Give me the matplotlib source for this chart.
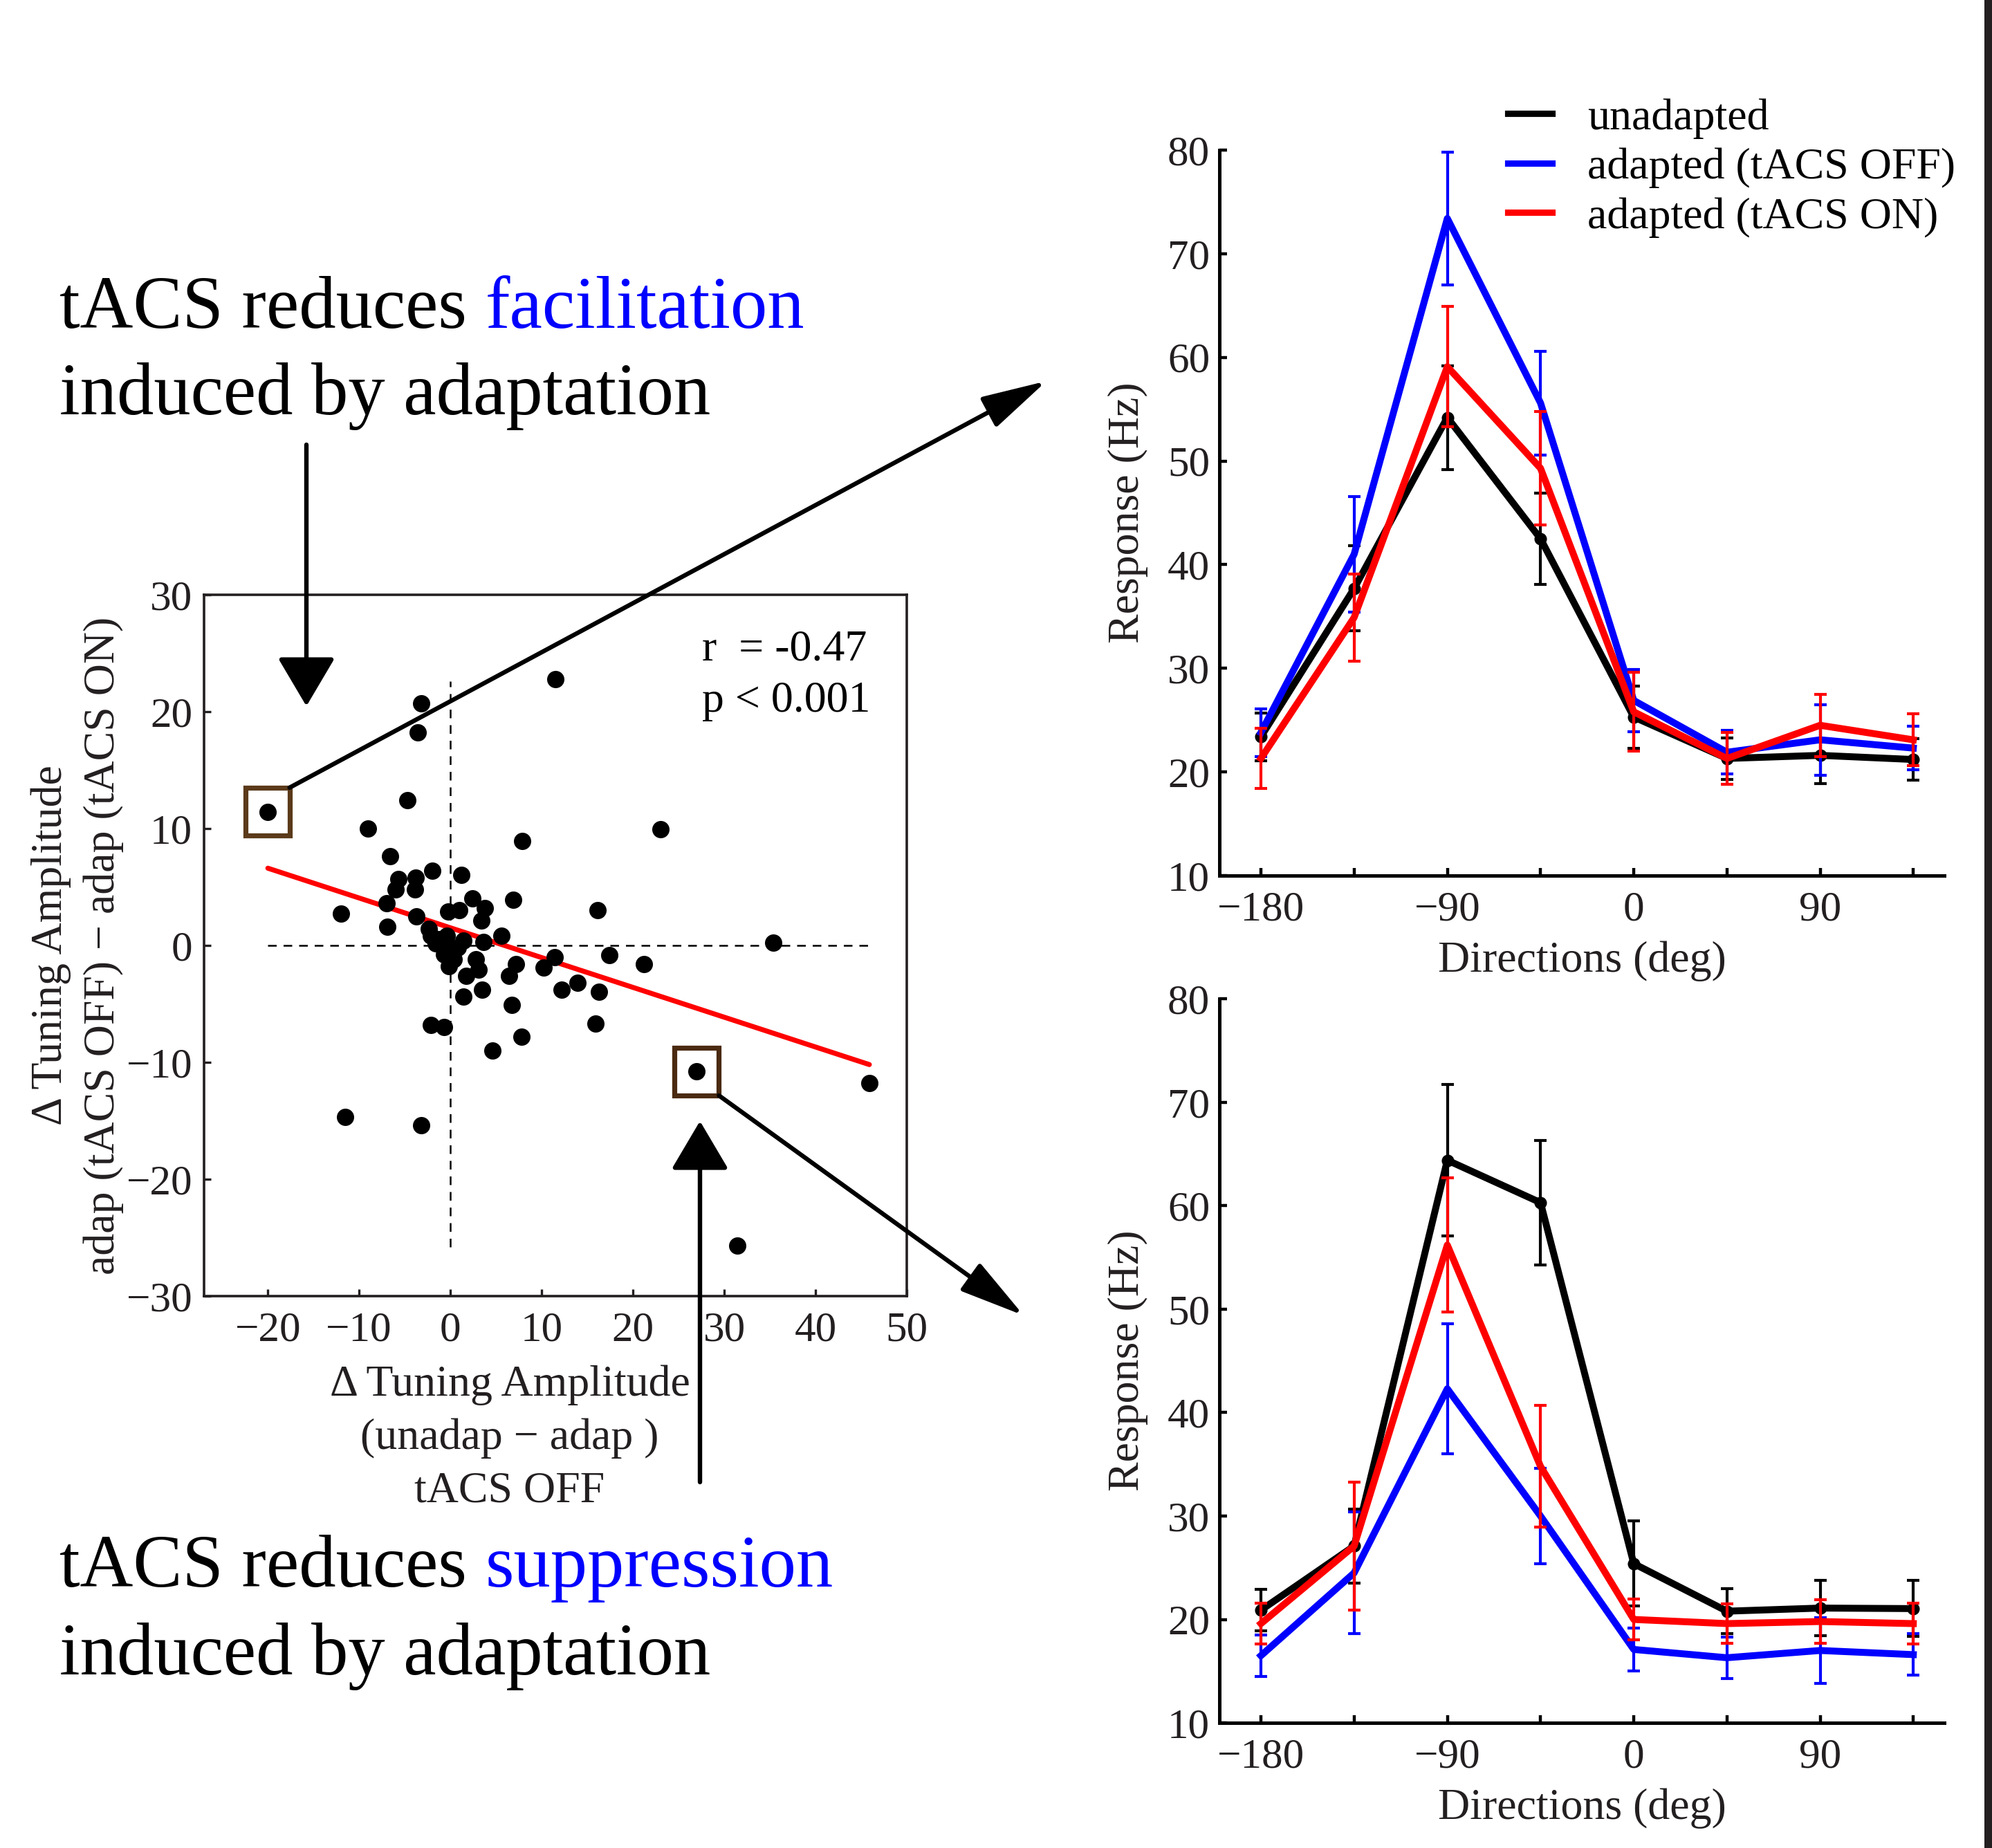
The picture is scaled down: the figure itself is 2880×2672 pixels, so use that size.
import matplotlib
matplotlib.use("Agg")
import matplotlib.pyplot as plt
from matplotlib.patches import Rectangle, FancyArrowPatch, ConnectionPatch
from matplotlib.lines import Line2D

plt.rcParams['font.family'] = ['Liberation Serif', 'DejaVu Serif']
plt.rcParams['axes.unicode_minus'] = True

# --- scatter: change of tuning amplitude ---
amp_off = [-20.05, -3.2, -3.55, 11.5, -4.7, -9.0, 23.0, 7.9, -6.6, -2.0,
           1.2, -5.7, -3.8, -6.0, -3.9, 2.4, 6.9, 3.8, -7.0, -12.0,
           16.1, -0.25, 1.0, -3.7, 3.4, -6.9, -2.4, -2.1, -0.4, 5.6,
           35.4, -1.6, -0.7, 1.4, 3.6, 0.1, -0.7, 11.4, 17.4, 21.2,
           2.8, 7.2, 0.4, -0.15, 10.2, 3.1, 1.7, 6.4, 13.9, 12.2,
           16.3, 3.5, 1.4, 6.7, 15.9, -2.1, -0.66, 7.8, 4.6, 27.0,
           45.9, -11.5, -3.2, 31.4, -1.2, 0.8]
amp_diff = [11.44, 20.7, 18.2, 22.8, 12.4, 10.0, 9.96, 8.9, 7.6, 6.4,
            6.0, 5.7, 5.8, 4.8, 4.8, 4.0, 3.9, 3.2, 3.6, 2.7,
            3.0, 2.9, 3.0, 2.5, 2.1, 1.6, 1.4, 0.8, 0.8, 0.8,
            0.24, 0.16, 0.0, 0.4, 0.3, -0.4, -0.8, -1.0, -0.84, -1.6,
            -1.2, -1.6, -1.2, -1.8, -1.9, -2.1, -2.6, -2.6, -3.2, -3.8,
            -4.0, -3.8, -4.4, -5.1, -6.7, -6.8, -7.0, -7.8, -9.0, -10.8,
            -11.8, -14.7, -15.4, -25.7, 0.5, -0.2]
highlight = [0, 59]
fit_x = [-20.0, 45.9]
fit_y = [6.6, -10.2]
stats_text = "r  = -0.47\np < 0.001"

# --- tuning curves ---
directions = [-180, -135, -90, -45, 0, 45, 90, 135]
dir_labels = ['\u2212180', '', '\u221290', '', '0', '', '90', '']

top_unadapted = [23.4, 37.7, 54.2, 42.5, 25.3, 21.3, 21.6, 21.2]
top_unadapted_err = [2.3, 4.1, 5.0, 4.4, 3.0, 2.0, 2.7, 2.0]
top_off = [23.8, 41.0, 73.4, 55.6, 26.9, 21.9, 23.1, 22.3]
top_off_err = [2.3, 5.6, 6.4, 5.0, 3.0, 2.1, 3.4, 2.1]
top_on = [21.3, 34.9, 59.1, 49.3, 25.8, 21.3, 24.5, 23.1]
top_on_err = [2.9, 4.2, 5.8, 5.5, 3.8, 2.5, 3.0, 2.5]

bot_unadapted = [20.9, 27.1, 64.4, 60.3, 25.4, 20.8, 21.1, 21.05]
bot_unadapted_err = [2.0, 3.6, 7.3, 6.0, 4.1, 2.2, 2.7, 2.7]
bot_off = [16.5, 24.5, 42.3, 30.0, 17.1, 16.3, 17.0, 16.6]
bot_off_err = [2.0, 5.9, 6.3, 4.6, 2.1, 2.0, 3.2, 2.0]
bot_on = [19.6, 27.1, 56.2, 34.8, 20.0, 19.6, 19.8, 19.6]
bot_on_err = [2.0, 6.2, 6.5, 5.9, 2.0, 1.9, 2.1, 2.0]

series_names = ['unadapted', 'adapted (tACS OFF)', 'adapted (tACS ON)']
series_colors = ['black', '#0000ff', '#ff0000']

W, H = 2880, 2672
fig = plt.figure(figsize=(W / 200, H / 200), dpi=200)


def fx(px):
    return px / W


def fy(py):
    return 1 - py / H


# scatter panel
ax = fig.add_axes([0.1024, 0.2987, 0.3528, 0.3795])
ax.plot([0, 0], [-25.8, 22.6], color='k', lw=0.9, ls=(0, (5, 4)), zorder=1)
ax.plot([-20.0, 45.9], [0, 0], color='k', lw=0.9, ls=(0, (5, 4)), zorder=1)
ax.plot(fit_x, fit_y, color='red', lw=2.6, zorder=2, solid_capstyle='round')
ax.plot(amp_off, amp_diff, 'o', color='k', ms=8, zorder=3)
box_w, box_h = 4.85, 4.1
box_colors = ['#5b3a1a', '#4a2a10']
for i, c in zip(highlight, box_colors):
    ax.add_patch(Rectangle((amp_off[i] - box_w / 2, amp_diff[i] - box_h / 2),
                           box_w, box_h, fill=False, ec=c, lw=2.6, zorder=4))
ax.set_xlim(-27, 50)
ax.set_ylim(-30, 30)
ax.set_xticks(range(-20, 51, 10))
ax.set_yticks(range(-30, 31, 10))
ax.tick_params(direction='in', length=3.5, width=1.2, labelsize=22, pad=6,
               colors='#231f20')
ax.tick_params(axis='x', pad=8)
for s in ax.spines.values():
    s.set_linewidth(1.3)
    s.set_color('#231f20')
ax.text(0.709, 0.95, stats_text, transform=ax.transAxes, fontsize=23,
        ha='left', va='top', linespacing=1.38)
fig.text(fx(737), fy(1973), "\u0394 Tuning Amplitude\n(unadap \u2212 adap )\ntACS OFF",
         fontsize=23, ha='center', va='top', linespacing=1.42, color='#231f20')
fig.text(fx(112), fy(1367), "\u0394 Tuning Amplitude\nadap (tACS OFF) \u2212 adap (tACS ON)",
         fontsize=23, ha='center', va='center', rotation=90, linespacing=1.4,
         color='#231f20')

# tuning curve panels
panels = [
    ([0.6122, 0.5262, 0.3639, 0.3926],
     [(top_unadapted, top_unadapted_err), (top_off, top_off_err), (top_on, top_on_err)]),
    ([0.6122, 0.0677, 0.3639, 0.3918],
     [(bot_unadapted, bot_unadapted_err), (bot_off, bot_off_err), (bot_on, bot_on_err)]),
]
curve_axes = []
for rect, data in panels:
    a = fig.add_axes(rect)
    for k, ((vals, errs), col) in enumerate(zip(data, series_colors)):
        a.errorbar(directions, vals, yerr=errs, color=col, lw=3.6,
                   elinewidth=1.5, capsize=3.3, capthick=1.5,
                   marker='o' if k == 0 else None, ms=5.5, zorder=2 + k)
    a.set_xlim(-200, 150)
    a.set_ylim(10, 80)
    a.set_xticks(directions)
    a.set_xticklabels(dir_labels)
    a.set_yticks(range(10, 81, 10))
    a.spines['top'].set_visible(False)
    a.spines['right'].set_visible(False)
    for s in ('left', 'bottom'):
        a.spines[s].set_linewidth(1.8)
    a.tick_params(direction='in', length=4, width=1.6, labelsize=22, pad=5,
                  labelcolor='#231f20')
    a.tick_params(axis='x', pad=8)
    a.set_xlabel('Directions (deg)', fontsize=23, labelpad=6, color='#231f20')
    a.set_ylabel('Response (Hz)', fontsize=23, labelpad=10, color='#231f20')
    curve_axes.append(a)

handles = [Line2D([], [], color=c, lw=3.3) for c in series_colors]
curve_axes[0].legend(handles, series_names, loc='upper left',
                     bbox_to_anchor=(fx(2180), fy(142)),
                     bbox_transform=fig.transFigure, frameon=False,
                     fontsize=23, handlelength=1.0, handletextpad=0.8,
                     labelspacing=0.2, borderpad=0, borderaxespad=0)

# headline texts
for (y1, y2, word) in [(474, 599, 'facilitation'), (2294, 2421, 'suppression')]:
    t = fig.text(fx(86), fy(y1), 'tACS reduces', fontsize=38.4, va='baseline')
    fig.text(fx(86), fy(y2), 'induced by adaptation', fontsize=38.4, va='baseline')
    fig.add_artist(plt.Annotation(word, xy=(1, 0), xycoords=t,
                                  xytext=(9.6, 0), textcoords='offset points',
                                  fontsize=38.4, color='#0000ff', va='bottom',
                                  ha='left'))

# arrows
big_head = "-|>,head_length=22,head_width=13"
thin_head = "-|>,head_length=29,head_width=7.5"
for (x0, y0), (x1, y1) in [((443, 643), (443, 1021)), ((1012, 2143), (1012, 1621))]:
    fig.add_artist(FancyArrowPatch((fx(x0), fy(y0)), (fx(x1), fy(y1)),
                                   transform=fig.transFigure, arrowstyle=big_head,
                                   mutation_scale=1, lw=2.3, color='k',
                                   shrinkA=0, shrinkB=0))

starts = [(amp_off[highlight[0]] + box_w / 2, amp_diff[highlight[0]] + box_h / 2),
          (amp_off[highlight[1]] + box_w / 2, amp_diff[highlight[1]] - box_h / 2)]
ends = [(fx(1513), fy(551)), (fx(1480), fy(1902))]
for st, en in zip(starts, ends):
    fig.add_artist(ConnectionPatch(xyA=st, coordsA='data', axesA=ax,
                                   xyB=en, coordsB='figure fraction',
                                   arrowstyle=thin_head, mutation_scale=1,
                                   lw=2.3, color='k', zorder=5))

# right-hand border line
fig.add_artist(Rectangle((fx(2869), 0), fx(11), 1, transform=fig.transFigure,
                         color='#231f20', lw=0))

fig.savefig('out.png', dpi=200)
